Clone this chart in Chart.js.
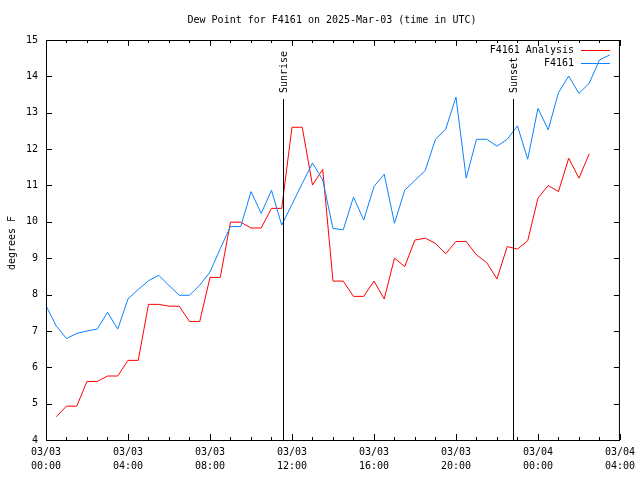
<!DOCTYPE html>
<html>
<head>
<meta charset="utf-8">
<title>Dew Point for F4161</title>
<script src="https://cdn.jsdelivr.net/npm/chart.js@4"></script>
<style>
  html, body { margin: 0; padding: 0; background: #fff; }
  canvas { display: block; }
</style>
</head>
<body>
<canvas id="dewChart" width="640" height="480"></canvas>
<script>
// hours since 03/03 00:00 UTC
const stationHours = [
  0, 0.5, 1, 1.5, 2, 2.5, 3, 3.5, 4, 4.5, 5, 5.5, 6, 6.5, 7, 7.5,
  8, 8.5, 9, 9.5, 10, 10.5, 11, 11.5, 12, 12.5, 13, 13.5, 14, 14.5, 15, 15.5,
  16, 16.5, 17, 17.5, 18, 18.5, 19, 19.5, 20, 20.5, 21, 21.5, 22, 22.5, 23, 23.5,
  24, 24.5, 25, 25.5, 26, 26.5, 27, 27.5
];
const stationValues = [
  7.69, 7.14, 6.79, 6.93, 7.00, 7.05, 7.51, 7.05, 7.88, 8.14, 8.38, 8.53, 8.25, 7.98, 7.98, 8.26,
  8.62, 9.26, 9.87, 9.87, 10.83, 10.23, 10.87, 9.91, 10.48, 11.05, 11.62, 11.15, 9.82, 9.78, 10.68, 10.05,
  10.97, 11.31, 9.96, 10.87, 11.14, 11.41, 12.27, 12.55, 13.43, 11.20, 12.27, 12.27, 12.08, 12.27, 12.64, 11.72,
  13.12, 12.53, 13.55, 14.01, 13.53, 13.81, 14.45, 14.59
];

const analysisHours = [
  0.5, 1, 1.5, 2, 2.5, 3, 3.5, 4, 4.5, 5, 5.5, 6, 6.5, 7, 7.5,
  8, 8.5, 9, 9.5, 10, 10.5, 11, 11.5, 12, 12.5, 13, 13.5, 14, 14.5, 15, 15.5,
  16, 16.5, 17, 17.5, 18, 18.5, 19, 19.5, 20, 20.5, 21, 21.5, 22, 22.5, 23, 23.5,
  24, 24.5, 25, 25.5, 26, 26.5
];
const analysisValues = [
  4.64, 4.93, 4.93, 5.61, 5.61, 5.76, 5.76, 6.19, 6.19, 7.73, 7.73, 7.68, 7.68, 7.26, 7.26,
  8.47, 8.47, 9.99, 9.99, 9.83, 9.83, 10.37, 10.37, 12.60, 12.60, 11.01, 11.44, 8.37, 8.37, 7.95, 7.95,
  8.37, 7.88, 9.00, 8.77, 9.50, 9.55, 9.41, 9.12, 9.46, 9.46, 9.09, 8.88, 8.43, 9.32, 9.25, 9.48,
  10.65, 11.00, 10.83, 11.75, 11.20, 11.87
];

const tickDates = ['03/03', '03/03', '03/03', '03/03', '03/03', '03/03', '03/04', '03/04'];
const tickTimes = ['00:00', '04:00', '08:00', '12:00', '16:00', '20:00', '00:00', '04:00'];

const sunEvents = [
  { label: 'Sunrise', hour: 11.54 },
  { label: 'Sunset', hour: 22.77 }
];

const FONT = '10px "DejaVu Sans Mono", "Liberation Mono", monospace';
const RED = '#ff0000';
const BLUE = '#0a82ff';

function toPoints(xs, ys) {
  return xs.map((x, i) => ({ x: x, y: ys[i] }));
}

// frame, inward ticks, sun lines, legend, title and y label, gnuplot style
const gnuplotDecor = {
  id: 'gnuplotDecor',
  afterDatasetsDraw(chart) {
    const ctx = chart.ctx;
    const a = chart.chartArea;
    const xs = chart.scales.x;
    const ys = chart.scales.y;
    ctx.save();
    ctx.strokeStyle = '#000';
    ctx.lineWidth = 1;

    // sunrise / sunset
    ctx.font = FONT;
    ctx.fillStyle = '#000';
    sunEvents.forEach(ev => {
      const px = Math.round(xs.getPixelForValue(ev.hour)) + 0.5;
      ctx.beginPath();
      ctx.moveTo(px, 99);
      ctx.lineTo(px, a.bottom);
      ctx.stroke();
      ctx.save();
      ctx.translate(px + 1, 93);
      ctx.rotate(-Math.PI / 2);
      ctx.textAlign = 'left';
      ctx.textBaseline = 'middle';
      ctx.fillText(ev.label, 0, 0);
      ctx.restore();
    });

    // frame
    ctx.strokeRect(a.left + 0.5, a.top + 0.5, a.right - a.left - 1, a.bottom - a.top);

    ctx.beginPath();
    // x ticks, every hour, major every 4 hours
    for (let h = 0; h <= 28; h++) {
      const px = Math.round(xs.getPixelForValue(h)) + 0.5;
      const len = h % 4 === 0 ? 6 : 3;
      ctx.moveTo(px, a.bottom);
      ctx.lineTo(px, a.bottom - len);
      ctx.moveTo(px, a.top);
      ctx.lineTo(px, a.top + len);
    }
    // y ticks
    for (let v = 4; v <= 15; v++) {
      const py = Math.round(ys.getPixelForValue(v)) + 0.5;
      ctx.moveTo(a.left, py);
      ctx.lineTo(a.left + 6, py);
      ctx.moveTo(a.right, py);
      ctx.lineTo(a.right - 6, py);
    }
    ctx.stroke();

    // legend
    const legendRows = [
      { text: 'F4161 Analysis', color: RED, y: 50 },
      { text: 'F4161', color: BLUE, y: 63 }
    ];
    ctx.textAlign = 'right';
    ctx.textBaseline = 'middle';
    legendRows.forEach(row => {
      ctx.fillStyle = '#000';
      ctx.fillText(row.text, 574, row.y);
      ctx.strokeStyle = row.color;
      ctx.beginPath();
      ctx.moveTo(581, row.y + 0.5);
      ctx.lineTo(610, row.y + 0.5);
      ctx.stroke();
    });

    // title
    ctx.fillStyle = '#000';
    ctx.textAlign = 'center';
    ctx.fillText('Dew Point for F4161 on 2025-Mar-03 (time in UTC)', 332, 20);

    // y axis label
    ctx.save();
    ctx.translate(12, 243);
    ctx.rotate(-Math.PI / 2);
    ctx.textAlign = 'center';
    ctx.textBaseline = 'middle';
    ctx.fillText('degrees F', 0, 0);
    ctx.restore();

    ctx.restore();
  }
};

Chart.defaults.font.family = '"DejaVu Sans Mono", "Liberation Mono", monospace';
Chart.defaults.font.size = 10;
Chart.defaults.color = '#000';

new Chart(document.getElementById('dewChart'), {
  type: 'line',
  data: {
    datasets: [
      {
        label: 'F4161 Analysis',
        data: toPoints(analysisHours, analysisValues),
        borderColor: RED,
        borderWidth: 1,
        pointRadius: 0,
        tension: 0,
        fill: false,
        order: 1
      },
      {
        label: 'F4161',
        data: toPoints(stationHours, stationValues),
        borderColor: BLUE,
        borderWidth: 1,
        pointRadius: 0,
        tension: 0,
        fill: false,
        order: 0
      }
    ]
  },
  options: {
    responsive: false,
    animation: false,
    devicePixelRatio: 1,
    layout: { padding: { top: 40, right: 18, left: 0, bottom: 0 } },
    plugins: {
      legend: { display: false },
      title: { display: false },
      tooltip: { enabled: false }
    },
    scales: {
      x: {
        type: 'linear',
        min: 0,
        max: 28,
        grid: { display: false, drawTicks: false },
        border: { display: false },
        afterFit(scale) { scale.height = 40; },
        ticks: {
          stepSize: 4,
          padding: 5,
          autoSkip: false,
          maxRotation: 0,
          font: { lineHeight: 1.4 },
          callback: value => [tickDates[value / 4], tickTimes[value / 4]]
        }
      },
      y: {
        min: 4,
        max: 15,
        grid: { display: false, drawTicks: false },
        border: { display: false },
        afterFit(scale) { scale.width = 46; },
        ticks: {
          stepSize: 1,
          padding: 8
        }
      }
    }
  },
  plugins: [gnuplotDecor]
});
</script>
</body>
</html>
